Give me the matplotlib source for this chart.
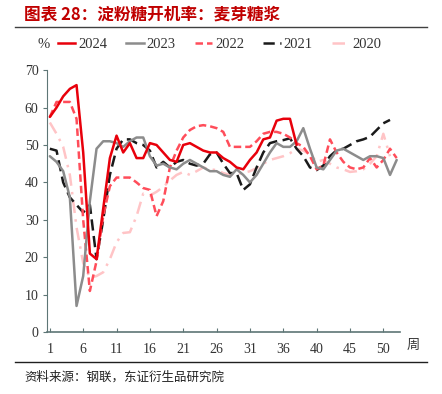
import numpy as np
import matplotlib.pyplot as plt
from matplotlib.lines import Line2D

plt.rcParams['font.family'] = ['Noto Sans CJK SC', 'DejaVu Sans']

# weekly values
y2024 = [57.5, 60, 63, 65, 66, 48, 21, 19.5, 33, 46.5, 52.5, 48, 50.5, 46.5, 46.5,
         50.5, 50, 48, 46, 45.5, 50, 50.5, 49.5, 48.5, 48, 48, 46.5, 45.5, 44, 43.5,
         46, 48, 51.5, 52, 56.5, 57, 57, 50]
y2023 = [47, 45.5, 43, 36, 7, 15, 35, 49, 51, 51, 50.5, 49.5, 51, 52, 52,
         47, 44.5, 45, 44, 43.5, 45, 46, 45, 44, 43, 43, 42, 41.5, 43.5, 42,
         40, 42, 45, 48, 50.5, 49.5, 49.5, 51, 54.5, 49, 44, 43.5, 46, 48.5, 49,
         48, 47, 46, 47, 47, 46.5, 42, 46]
y2022 = [57.5, 61.5, 61.5, 61.5, 57, 30, 11, 19, 31, 39, 41.3, 41.3, 41.3, 40, 38.5,
         38, 31, 35, 44, 48.5, 52, 54, 55, 55.3, 55, 54.5, 53.5, 49.5, 49.5, 49.5,
         49.5, 51, 53, 53.5, 53.5, 53, 52, 50.5, 49.5, 47, 43.5, 44.5, 51.5, 48, 45.5,
         44, 43.5, 44, 46.5, 44, 46, 49, 46.5]
y2021 = [49, 48.5, 40, 36, 34, 32, 34, 19.5, 30, 42, 49, 51.5, 51.5, 50.5, 50,
         48.5, 44, 45.5, 44, 45.5, 46, 45, 44.5, 45, 47.5, 48, 45, 42.5, 42.5, 38,
         39.5, 44, 48, 50.5, 51, 51.3, 51.8, 49, 47, 44, 43.3, 44.5, 47, 48.6, 49,
         50, 51, 51.5, 52.2, 54, 55.8, 56.7]
y2020 = [56, 53, 49.5, 42, 28, 18.5, 14.5, 15, 16, 19.5, 24, 26.5, 26.7, 31, 37,
         36.5, 37.5, 38.8, 40.5, 42, 42.8, 42, 43, 44, 43.5, 43.3, 42.5, 42, 42.3, 42.5,
         43, 43.8, 45, 46, 46.5, 47, 47.8, 49, 48.5, 47.5, 45.5, 46, 45, 44, 43.5,
         42.8, 43, 43.5, 45, 47, 53, 47]

tick_pos = [1, 6, 11, 16, 21, 26, 31, 36, 41, 46, 51]
tick_labels = ['1', '6', '11', '16', '21', '26', '31', '36', '40', '45', '50']

series = [
    ('2024', y2024, '#E8000B', '-'),
    ('2023', y2023, '#8C8C8C', '-'),
    ('2022', y2022, '#FF4D5A', (0, (3, 1.6))),
    ('2021', y2021, '#1A1A1A', (0, (4.5, 2.2))),
    ('2020', y2020, '#FFC4C6', (0, (5, 2.5, 1, 2.5))),
]

fig = plt.figure(figsize=(4.42, 3.94), dpi=100)
ax = fig.add_axes([0.106, 0.157, 0.799, 0.665])

# draw older years first so 2024 sits on top
for name, vals, col, ls in series[::-1]:
    x = np.arange(1, len(vals) + 1)
    ax.plot(x, vals, color=col, linestyle=ls, linewidth=1.8, solid_capstyle='round')

ax.set_xlim(0.55, 53.5)
ax.set_ylim(0, 70)
ax.set_yticks(range(0, 71, 10))
ax.set_xticks(tick_pos)
ax.set_xticklabels(tick_labels)

for lab in ax.get_xticklabels() + ax.get_yticklabels():
    lab.set_fontfamily('Liberation Serif')
    lab.set_fontsize(10)
    lab.set_color('#333333')

spine_col = '#5E7676'
for s in ['top', 'right']:
    ax.spines[s].set_visible(False)
ax.spines['left'].set_color(spine_col)
ax.spines['bottom'].set_color(spine_col)
ax.spines['bottom'].set_linewidth(1.2)
ax.tick_params(axis='x', direction='in', length=3, color=spine_col, pad=8)
ax.tick_params(axis='y', direction='out', length=3, color=spine_col, pad=3)

# legend
handles = [Line2D([0], [0], color=c, linestyle=ls, linewidth=1.8) for _, _, c, ls in series]
labels = [n for n, _, _, _ in series]
leg = fig.legend(handles, labels, loc='center left', bbox_to_anchor=(0.131, 0.888),
                 ncol=5, frameon=False, handlelength=1.2, handletextpad=0.2,
                 columnspacing=1.3, borderaxespad=0, borderpad=0,
                 prop={'family': 'Liberation Serif', 'size': 10.5})
for t in leg.get_texts():
    t.set_color('#333333')
fig.text(0.085, 0.888, '%', ha='left', va='center', fontsize=10.5,
         family='Liberation Serif', color='#333333')

fig.text(0.935, 0.123, '周', ha='center', va='center', fontsize=9.5, color='#333333')

# title, rules and source
fig.text(0.055, 0.962, '图表 28：淀粉糖开机率：麦芽糖浆', ha='left', va='center',
         fontsize=12, fontweight='bold', color='#C00000')
fig.add_artist(Line2D([0.034, 0.966], [0.931, 0.931], color='#404040', linewidth=1.0))
fig.add_artist(Line2D([0.034, 0.966], [0.081, 0.081], color='#202020', linewidth=1.0))
fig.text(0.055, 0.043, '资料来源：钢联，东证衍生品研究院', ha='left', va='center',
         fontsize=9, color='#222222')

fig.savefig('out.png', dpi=100)
